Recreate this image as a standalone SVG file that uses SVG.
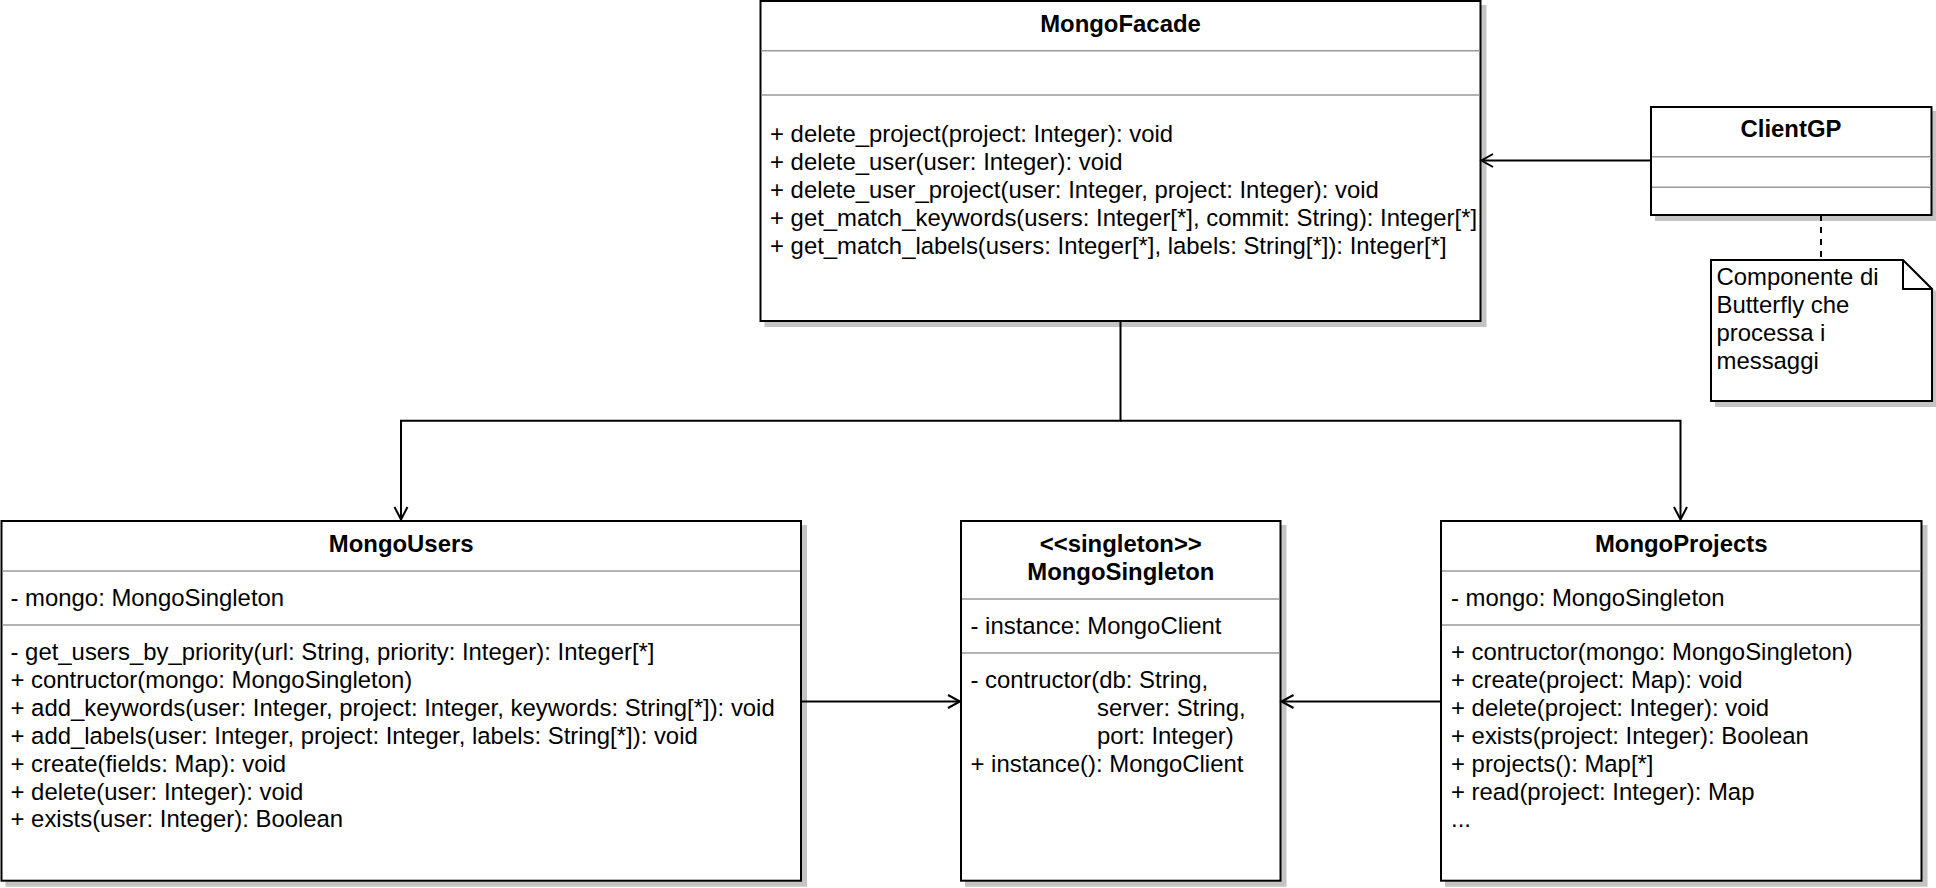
<svg xmlns="http://www.w3.org/2000/svg" width="1936" height="888" viewBox="0 0 1936 888">
<style>
.box{fill:#fff;stroke:#000;stroke-width:2}
.shadow{fill:#c4c4c4;stroke:#c4c4c4;stroke-width:2}
.sep{stroke:#999;stroke-width:1.5;fill:none}
.t{font-family:"Liberation Sans",Arial,sans-serif;font-size:23.9px;fill:#000}
.b{font-weight:bold;text-anchor:middle}
.edge{fill:none;stroke:#000;stroke-width:2}
.dash{stroke-dasharray:6 6}
</style>
<rect width="1936" height="888" fill="#fff"/>

<g id="MongoFacade">
<rect class="shadow" x="765.5" y="6" width="720" height="320"/>
<rect class="box" x="760.5" y="1" width="720" height="320"/>
<line class="sep" x1="761.5" y1="50.7" x2="1479.5" y2="50.7"/>
<line class="sep" x1="761.5" y1="95" x2="1479.5" y2="95"/>
<text class="t b" x="1120.5" y="32.3">MongoFacade</text>
<text class="t" x="770" y="141.7">+ delete_project(project: Integer): void</text>
<text class="t" x="770" y="169.8">+ delete_user(user: Integer): void</text>
<text class="t" x="770" y="197.9">+ delete_user_project(user: Integer, project: Integer): void</text>
<text class="t" x="770" y="226">+ get_match_keywords(users: Integer[*], commit: String): Integer[*]</text>
<text class="t" x="770" y="254.1">+ get_match_labels(users: Integer[*], labels: String[*]): Integer[*]</text>
</g>

<g id="ClientGP">
<rect class="shadow" x="1656" y="112" width="280.5" height="108"/>
<rect class="box" x="1651" y="107" width="280.5" height="108"/>
<line class="sep" x1="1652" y1="156.7" x2="1930.5" y2="156.7"/>
<line class="sep" x1="1652" y1="187.3" x2="1930.5" y2="187.3"/>
<text class="t b" x="1791" y="136.7">ClientGP</text>
</g>

<g id="Note">
<path class="shadow" d="M1716 265 H1908 L1937 294 V406 H1716 Z"/>
<path class="box" d="M1711 260 H1903 L1932 289 V401 H1711 Z"/>
<path class="edge" d="M1903 260 V289 H1932"/>
<text class="t" x="1716.5" y="285">Componente di</text>
<text class="t" x="1716.5" y="313">Butterfly che</text>
<text class="t" x="1716.5" y="341.2">processa i</text>
<text class="t" x="1716.5" y="369.2">messaggi</text>
</g>

<g id="MongoUsers">
<rect class="shadow" x="6.5" y="526" width="799.5" height="359.7"/>
<rect class="box" x="1.5" y="521" width="799.5" height="359.7"/>
<line class="sep" x1="2.5" y1="571" x2="800" y2="571"/>
<line class="sep" x1="2.5" y1="625" x2="800" y2="625"/>
<text class="t b" x="401.2" y="551.7">MongoUsers</text>
<text class="t" x="10.5" y="606">- mongo: MongoSingleton</text>
<text class="t" x="10.5" y="660">- get_users_by_priority(url: String, priority: Integer): Integer[*]</text>
<text class="t" x="10.5" y="687.9">+ contructor(mongo: MongoSingleton)</text>
<text class="t" x="10.5" y="715.8">+ add_keywords(user: Integer, project: Integer, keywords: String[*]): void</text>
<text class="t" x="10.5" y="743.7">+ add_labels(user: Integer, project: Integer, labels: String[*]): void</text>
<text class="t" x="10.5" y="771.6">+ create(fields: Map): void</text>
<text class="t" x="10.5" y="799.5">+ delete(user: Integer): void</text>
<text class="t" x="10.5" y="827.4">+ exists(user: Integer): Boolean</text>
</g>

<g id="MongoSingleton">
<rect class="shadow" x="966" y="526" width="319.5" height="359.7"/>
<rect class="box" x="961" y="521" width="319.5" height="359.7"/>
<line class="sep" x1="962" y1="599" x2="1279.5" y2="599"/>
<line class="sep" x1="962" y1="653" x2="1279.5" y2="653"/>
<text class="t b" x="1120.8" y="551.7">&lt;&lt;singleton&gt;&gt;</text>
<text class="t b" x="1120.8" y="580">MongoSingleton</text>
<text class="t" x="970.5" y="634">- instance: MongoClient</text>
<text class="t" x="970.5" y="688.2">- contructor(db: String,</text>
<text class="t" x="1097" y="716.1">server: String,</text>
<text class="t" x="1097" y="744">port: Integer)</text>
<text class="t" x="970.5" y="771.9">+ instance(): MongoClient</text>
</g>

<g id="MongoProjects">
<rect class="shadow" x="1446" y="526" width="480.5" height="359.7"/>
<rect class="box" x="1441" y="521" width="480.5" height="359.7"/>
<line class="sep" x1="1442" y1="571" x2="1920.5" y2="571"/>
<line class="sep" x1="1442" y1="625" x2="1920.5" y2="625"/>
<text class="t b" x="1681.2" y="551.7">MongoProjects</text>
<text class="t" x="1451" y="606">- mongo: MongoSingleton</text>
<text class="t" x="1451" y="660">+ contructor(mongo: MongoSingleton)</text>
<text class="t" x="1451" y="687.9">+ create(project: Map): void</text>
<text class="t" x="1451" y="715.8">+ delete(project: Integer): void</text>
<text class="t" x="1451" y="743.7">+ exists(project: Integer): Boolean</text>
<text class="t" x="1451" y="771.6">+ projects(): Map[*]</text>
<text class="t" x="1451" y="799.5">+ read(project: Integer): Map</text>
<text class="t" x="1451" y="827.4">...</text>
</g>

<g id="connectors">
<path class="edge" d="M1651 160.5 H1482"/>
<path class="edge" d="M1493 154 L1481.5 160.5 L1493 167"/>
<path class="edge dash" d="M1821 215 V260"/>
<path class="edge" d="M1120.5 321 V420.7 H401 V519"/>
<path class="edge" d="M394.5 507 L401 519.5 L407.5 507"/>
<path class="edge" d="M1120.5 420.7 H1680.5 V519"/>
<path class="edge" d="M1674 507 L1680.5 519.5 L1687 507"/>
<path class="edge" d="M801 701.5 H959"/>
<path class="edge" d="M948 695 L960 701.5 L948 708"/>
<path class="edge" d="M1441 701.5 H1282.5"/>
<path class="edge" d="M1293.5 695 L1281.5 701.5 L1293.5 708"/>
</g>
</svg>
